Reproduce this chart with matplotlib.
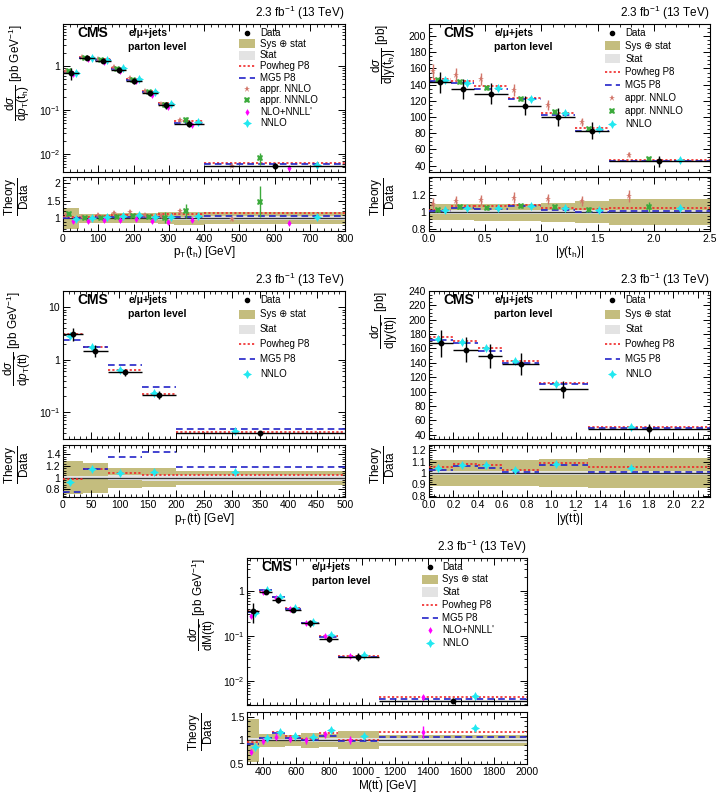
import matplotlib
matplotlib.use('Agg')
import matplotlib.pyplot as plt
import numpy as np
from matplotlib.ticker import FixedLocator, FixedFormatter, MultipleLocator, AutoMinorLocator, LogLocator, NullFormatter
from matplotlib.patches import Rectangle

plt.rcParams['font.family'] = ['Liberation Sans', 'DejaVu Sans']
plt.rcParams['mathtext.fontset'] = 'custom'
plt.rcParams['mathtext.rm'] = 'Liberation Sans'
plt.rcParams['mathtext.it'] = 'Liberation Sans:italic'
plt.rcParams['mathtext.bf'] = 'Liberation Sans:bold'

# ---------------- data ----------------
# pT(t_h)
pth_edges = [0, 45, 90, 135, 180, 225, 270, 315, 400, 800]
pth_data = [0.69, 1.54, 1.32, 0.82, 0.46, 0.24, 0.128, 0.049, 0.0054]
pth_tot = [0.29, 0.13, 0.13, 0.14, 0.14, 0.14, 0.17, 0.18, 0.17]
pth_stat = [0.03, 0.02, 0.02, 0.02, 0.03, 0.03, 0.04, 0.05, 0.06]
pth_powheg = [1.05, 1.05, 1.08, 1.10, 1.10, 1.10, 1.12, 1.12, 1.15]
pth_mg5 = [1.00, 1.00, 1.03, 1.05, 1.05, 1.05, 1.05, 1.05, 1.07]
pth_apprnnlo = [1.10, 1.05, 1.10, 1.15, 1.17, 1.10, 1.08, 1.20, 0.97]
pth_apprnnlo_err = [0.06, 0.05, 0.06, 0.07, 0.07, 0.06, 0.06, 0.07, 0.05]
pth_apprnnnlo = [1.12, 1.00, 1.02, 1.05, 1.07, 1.05, 1.02, 1.20, 1.48]
pth_apprnnnlo_err = [0.03, 0.03, 0.03, 0.04, 0.04, 0.05, 0.15, 0.20, 0.45]
pth_nnll = [0.93, 0.92, 0.95, 0.95, 0.97, 0.93, 0.90, 0.95, 0.87]
pth_nnll_err = [0.05, 0.05, 0.05, 0.05, 0.05, 0.05, 0.05, 0.05, 0.06]
pth_nnlo = [0.98, 1.00, 1.03, 1.07, 1.10, 1.05, 1.05, 1.07, 1.05]
pth_nnlo_err = [0.02, 0.02, 0.02, 0.02, 0.02, 0.02, 0.02, 0.03, 0.03]

# |y(t_h)|
yth_edges = [0, 0.2, 0.4, 0.7, 1.0, 1.3, 1.6, 2.5]
yth_data = [143, 135, 129, 114, 100, 83, 45]
yth_tot = [0.09, 0.09, 0.10, 0.10, 0.11, 0.13, 0.15]
yth_stat = [0.02, 0.02, 0.02, 0.02, 0.02, 0.02, 0.02]
yth_powheg = [1.03, 1.07, 1.07, 1.08, 1.05, 1.04, 1.05]
yth_mg5 = [1.01, 1.05, 1.04, 1.07, 1.02, 1.00, 1.01]
yth_apprnnlo = [1.10, 1.13, 1.14, 1.17, 1.15, 1.13, 1.19]
yth_apprnnlo_err = [0.06, 0.06, 0.06, 0.06, 0.06, 0.06, 0.07]
yth_apprnnnlo = [1.02, 1.06, 1.05, 1.07, 1.06, 1.03, 1.06]
yth_apprnnnlo_err = [0.02, 0.02, 0.02, 0.02, 0.02, 0.03, 0.06]
yth_nnlo = [1.02, 1.05, 1.05, 1.07, 1.05, 1.03, 1.05]
yth_nnlo_err = [0.01, 0.01, 0.01, 0.01, 0.01, 0.01, 0.01]

# pT(tt)
ptt_edges = [0, 35, 80, 140, 200, 500]
ptt_data = [3.1, 1.5, 0.58, 0.215, 0.04]
ptt_tot = [0.28, 0.26, 0.17, 0.16, 0.12]
ptt_stat = [0.03, 0.03, 0.04, 0.05, 0.05]
ptt_powheg = [0.98, 1.15, 1.08, 1.05, 1.04]
ptt_mg5 = [0.76, 1.15, 1.35, 1.44, 1.18]
ptt_nnlo = [0.93, 1.15, 1.08, 1.10, 1.10]
ptt_nnlo_err = [0.05, 0.03, 0.04, 0.05, 0.04]

# |y(tt)|
ytt_edges = [0, 0.2, 0.4, 0.6, 0.9, 1.3, 2.3]
ytt_data = [167, 158, 150, 138, 103, 48.5]
ytt_tot = [0.11, 0.11, 0.11, 0.11, 0.12, 0.13]
ytt_stat = [0.02, 0.02, 0.02, 0.02, 0.02, 0.02]
ytt_powheg = [1.05, 1.08, 1.07, 1.03, 1.09, 1.05]
ytt_mg5 = [1.03, 1.06, 1.04, 1.01, 1.07, 1.01]
ytt_nnlo = [1.04, 1.07, 1.07, 1.03, 1.08, 1.04]
ytt_nnlo_err = [0.01, 0.01, 0.01, 0.01, 0.01, 0.01]

# M(tt)
mtt_edges = [300, 375, 450, 530, 625, 740, 850, 1100, 2000]
mtt_data = [0.365, 0.97, 0.63, 0.378, 0.19, 0.086, 0.0346, 0.00365]
mtt_tot = [0.46, 0.14, 0.14, 0.12, 0.16, 0.14, 0.19, 0.11]
mtt_stat = [0.04, 0.02, 0.02, 0.02, 0.03, 0.04, 0.04, 0.06]
mtt_powheg = [0.96, 1.05, 1.17, 1.09, 1.03, 1.16, 1.01, 1.17]
mtt_mg5 = [0.93, 1.06, 1.16, 1.05, 1.01, 1.10, 0.98, 1.07]
mtt_nnll = [0.76, 0.98, 1.08, 1.03, 1.00, 1.13, 1.01, 1.17]
mtt_nnll_err = [0.05, 0.06, 0.07, 0.07, 0.07, 0.07, 0.08, 0.13]
mtt_nnlo = [0.87, 1.06, 1.17, 1.10, 1.07, 1.21, 1.10, 1.26]
mtt_nnlo_err = [0.03, 0.03, 0.03, 0.03, 0.03, 0.03, 0.03, 0.04]

# ---------------- styles ----------------
OLIVE = '#c4bd7e'
GREY = '#e3e3e3'
RED = '#f02828'
BLUE = '#2424c8'
DOTTED = (0, (1.3, 1.3))
DASHED = (0, (4, 2.5))
STY = {
    'appr. NNLO': dict(marker='*', color='#d2766a', ms=4.5),
    'appr. NNNLO': dict(marker='X', color='#3caa3c', ms=4.5),
    "NLO+NNLL'": dict(marker='d', color='#ff00ff', ms=3.5),
    'NNLO': dict(marker=(4, 1, 0), color='#22e8f0', ms=6.5),
}

W, H = 723, 794
fig = plt.figure(figsize=(W / 100, H / 100), dpi=100)


def px(l, t, r, b):
    return [l / W, 1 - b / H, (r - l) / W, (b - t) / H]


def style_axis(ax):
    ax.tick_params(which='both', direction='in', top=True, right=True, labelsize=7.5, pad=2)
    ax.tick_params(which='major', length=5, width=0.7)
    ax.tick_params(which='minor', length=2.5, width=0.6)
    for s in ax.spines.values():
        s.set_linewidth(0.8)


def draw(main_box, ratio_box, edges, data, tot, stat, powheg, mg5, points,
         xlim, ylim_main, ylim_ratio, logy, xlabel, ylabel, legend_dy, ymajor, rmajor, xmajor):
    e = np.array(edges, float)
    d = np.array(data)
    c = (e[:-1] + e[1:]) / 2
    w = np.diff(e)
    tot = np.array(tot)
    stat = np.array(stat)

    ax = fig.add_axes(px(*main_box))
    ar = fig.add_axes(px(*ratio_box))

    # main panel
    ax.hlines(d * np.array(powheg), e[:-1], e[1:], color=RED, linestyles=DOTTED, lw=1.2, zorder=2)
    ax.hlines(d * np.array(mg5), e[:-1], e[1:], color=BLUE, linestyles=DASHED, lw=1.2, zorder=2)
    for name, vals, errs, off in points:
        st = STY[name]
        ax.errorbar(c + off * w, d * np.array(vals), yerr=d * np.array(errs), fmt='none',
                    ecolor=st['color'], elinewidth=1, zorder=3)
        ax.plot(c + off * w, d * np.array(vals), ls='none', marker=st['marker'], color=st['color'],
                ms=st['ms'], mew=0, zorder=4)
    ax.errorbar(c, d, xerr=w / 2, yerr=d * tot, fmt='o', color='k', ms=3.2, elinewidth=1,
                capsize=0, zorder=5)

    # ratio panel
    ar.bar(c, 2 * tot, bottom=1 - tot, width=w, color=OLIVE, lw=0, zorder=1)
    ar.bar(c, 2 * stat, bottom=1 - stat, width=w, color=GREY, lw=0, zorder=1)
    ar.axhline(1, color='#333333', lw=0.9, zorder=2)
    ar.hlines(powheg, e[:-1], e[1:], color=RED, linestyles=DOTTED, lw=1.2, zorder=3)
    ar.hlines(mg5, e[:-1], e[1:], color=BLUE, linestyles=DASHED, lw=1.2, zorder=3)
    for name, vals, errs, off in points:
        st = STY[name]
        ar.errorbar(c + off * w, vals, yerr=errs, fmt='none', ecolor=st['color'], elinewidth=1, zorder=4)
        ar.plot(c + off * w, vals, ls='none', marker=st['marker'], color=st['color'],
                ms=st['ms'], mew=0, zorder=5)

    ax.set_xlim(*xlim)
    ar.set_xlim(*xlim)
    ax.set_ylim(*ylim_main)
    ar.set_ylim(*ylim_ratio)
    if logy:
        ax.set_yscale('log')
        labs = {10: '10', 1: '1', 0.1: '$10^{-1}$', 0.01: '$10^{-2}$'}
        ax.yaxis.set_major_locator(FixedLocator(ymajor))
        ax.yaxis.set_major_formatter(FixedFormatter([labs[v] for v in ymajor]))
        ax.yaxis.set_minor_locator(LogLocator(base=10, subs=np.arange(2, 10)))
        ax.yaxis.set_minor_formatter(NullFormatter())
    else:
        ax.yaxis.set_major_locator(MultipleLocator(ymajor))
        ax.yaxis.set_minor_locator(AutoMinorLocator(4))
    ax.xaxis.set_major_locator(MultipleLocator(xmajor))
    ar.xaxis.set_major_locator(MultipleLocator(xmajor))
    ax.xaxis.set_minor_locator(AutoMinorLocator(5))
    ar.xaxis.set_minor_locator(AutoMinorLocator(5))
    ar.yaxis.set_major_locator(FixedLocator(rmajor))
    ar.yaxis.set_major_formatter(FixedFormatter([('%g' % v) for v in rmajor]))
    ar.yaxis.set_minor_locator(AutoMinorLocator(5))
    ax.tick_params(labelbottom=False)
    style_axis(ax)
    style_axis(ar)

    ar.set_xlabel(xlabel, fontsize=8.5, labelpad=0)
    ax.text(-0.16, 1.0, ylabel, transform=ax.transAxes, rotation=90, ha='center', va='top', fontsize=8.5)
    ar.text(-0.165, 1.0, r'$\dfrac{\mathrm{Theory}}{\mathrm{Data}}$', transform=ar.transAxes,
            rotation=90, ha='center', va='top', fontsize=8.5)

    # labels
    ax.text(1.0, 1.045, r'2.3 fb$^{-1}$ (13 TeV)', transform=ax.transAxes, ha='right', va='baseline', fontsize=8.5)
    ax.text(0.05, 0.938, 'CMS', transform=ax.transAxes, ha='left', va='center', fontsize=10, fontweight='bold')
    ax.text(0.232, 0.938, 'e/\u03bc+jets', transform=ax.transAxes, ha='left', va='center', fontsize=7.5, fontweight='bold')
    ax.text(0.232, 0.846, 'parton level', transform=ax.transAxes, ha='left', va='center', fontsize=7.5, fontweight='bold')

    # legend
    entries = [('data', 'Data'), ('band', 'Sys \u2295 stat'), ('stat', 'Stat'),
               ('powheg', 'Powheg P8'), ('mg5', 'MG5 P8')] + [(p[0], p[0]) for p in points]
    xh, hw, xt = 0.653, 0.028, 0.698
    y0 = 0.942
    for i, (kind, lab) in enumerate(entries):
        y = y0 - i * legend_dy
        if kind == 'data':
            ax.plot([xh], [y], 'o', color='k', ms=3, transform=ax.transAxes)
        elif kind in ('band', 'stat'):
            ax.add_patch(Rectangle((xh - hw, y - 0.031), 2 * hw, 0.062, transform=ax.transAxes,
                                   color=OLIVE if kind == 'band' else GREY, lw=0))
        elif kind == 'powheg':
            ax.plot([xh - hw, xh + hw], [y, y], color=RED, ls=DOTTED, lw=1.2, transform=ax.transAxes)
        elif kind == 'mg5':
            ax.plot([xh - hw, xh + hw], [y, y], color=BLUE, ls=DASHED, lw=1.2, transform=ax.transAxes)
        else:
            st = STY[kind]
            ax.plot([xh], [y], marker=st['marker'], color=st['color'], ms=st['ms'], mew=0,
                    transform=ax.transAxes)
        ax.text(xt, y, lab, transform=ax.transAxes, ha='left', va='center', fontsize=7)
    return ax, ar


draw((63, 24, 345, 172), (63, 177, 345, 231), pth_edges, pth_data, pth_tot, pth_stat,
     pth_powheg, pth_mg5,
     [('appr. NNLO', pth_apprnnlo, pth_apprnnlo_err, -0.3),
      ('appr. NNNLO', pth_apprnnnlo, pth_apprnnnlo_err, -0.1),
      ("NLO+NNLL'", pth_nnll, pth_nnll_err, 0.1),
      ('NNLO', pth_nnlo, pth_nnlo_err, 0.3)],
     (0, 800), (0.0039, 9.0), (0.64, 2.18), True,
     r'p$_{\mathrm{T}}$(t$_{\mathrm{h}}$) [GeV]',
     r'$\dfrac{\mathrm{d}\sigma}{\mathrm{d}p_{\mathrm{T}}(\mathrm{t}_{\mathrm{h}})}$ [pb GeV$^{-1}$]',
     0.0762, [0.01, 0.1, 1], [1, 1.5, 2], 100)

draw((429, 24, 710, 172), (429, 177, 710, 231), yth_edges, yth_data, yth_tot, yth_stat,
     yth_powheg, yth_mg5,
     [('appr. NNLO', yth_apprnnlo, yth_apprnnlo_err, -0.3),
      ('appr. NNNLO', yth_apprnnnlo, yth_apprnnnlo_err, -0.1),
      ('NNLO', yth_nnlo, yth_nnlo_err, 0.2)],
     (0, 2.5), (32, 215), (0.78, 1.41), False,
     r'|y(t$_{\mathrm{h}}$)|',
     r'$\dfrac{\mathrm{d}\sigma}{\mathrm{d|y(t_{h})|}}$ [pb]',
     0.0882, 20, [0.8, 1, 1.2], 0.5)

draw((63, 291, 345, 439), (63, 445, 345, 497), ptt_edges, ptt_data, ptt_tot, ptt_stat,
     ptt_powheg, ptt_mg5,
     [('NNLO', ptt_nnlo, ptt_nnlo_err, -0.15)],
     (0, 500), (0.031, 20.4), (0.67, 1.56), True,
     r'p$_{\mathrm{T}}$(t$\bar{\mathrm{t}}$) [GeV]',
     r'$\dfrac{\mathrm{d}\sigma}{\mathrm{d}p_{\mathrm{T}}(\mathrm{t\bar{t}})}$ [pb GeV$^{-1}$]',
     0.1004, [0.1, 1, 10], [0.8, 1, 1.2, 1.4], 50)

draw((429, 291, 710, 439), (429, 445, 710, 497), ytt_edges, ytt_data, ytt_tot, ytt_stat,
     ytt_powheg, ytt_mg5,
     [('NNLO', ytt_nnlo, ytt_nnlo_err, -0.15)],
     (0, 2.3), (34, 240), (0.79, 1.245), False,
     r'|y(t$\bar{\mathrm{t}}$)|',
     r'$\dfrac{\mathrm{d}\sigma}{\mathrm{d|y(t\bar{t})|}}$ [pb]',
     0.1004, 20, [0.8, 0.9, 1, 1.1, 1.2], 0.2)

draw((247, 558, 527, 705), (247, 712, 527, 764), mtt_edges, mtt_data, mtt_tot, mtt_stat,
     mtt_powheg, mtt_mg5,
     [("NLO+NNLL'", mtt_nnll, mtt_nnll_err, -0.2),
      ('NNLO', mtt_nnlo, mtt_nnlo_err, 0.15)],
     (300, 2000), (0.0029, 5.4), (0.5, 1.6), True,
     r'M(t$\bar{\mathrm{t}}$) [GeV]',
     r'$\dfrac{\mathrm{d}\sigma}{\mathrm{dM(t\bar{t})}}$ [pb GeV$^{-1}$]',
     0.0868, [0.01, 0.1, 1], [0.5, 1, 1.5], 200)

fig.savefig('out.png', dpi=100)
